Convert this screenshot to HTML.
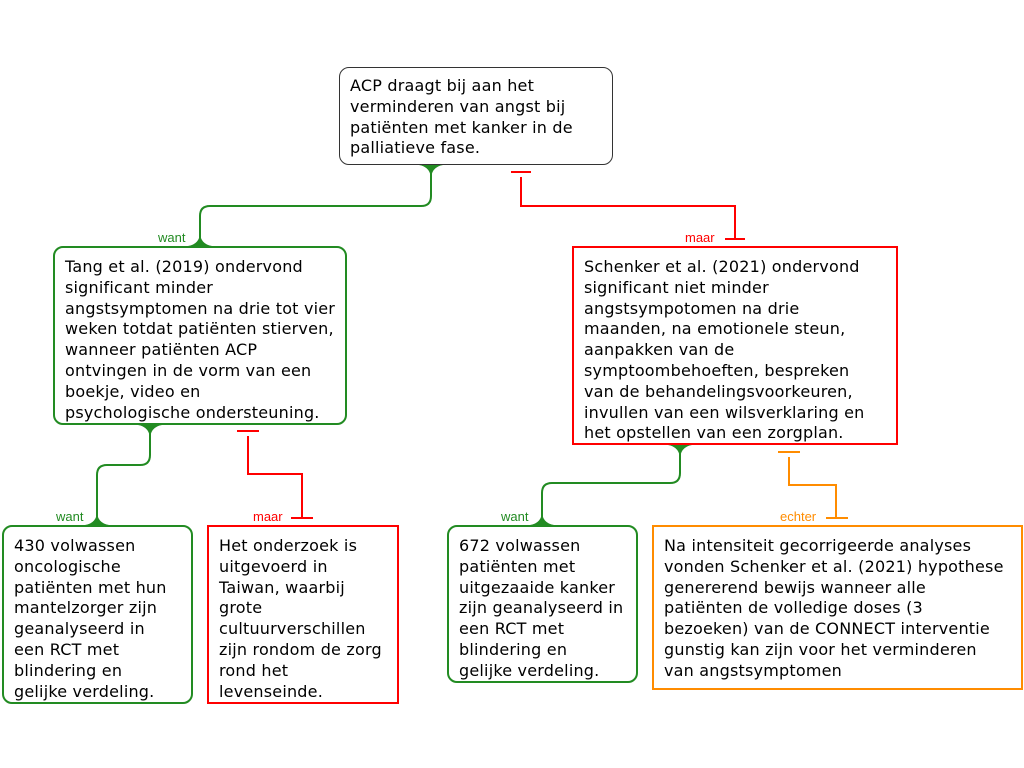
<!DOCTYPE html>
<html><head><meta charset="utf-8"><style>
body{margin:0;width:1024px;height:768px;background:#fff;position:relative;overflow:hidden;font-family:"DejaVu Sans","Liberation Sans",sans-serif;}
.b{position:absolute;box-sizing:border-box;background:#fff;font-size:16px;letter-spacing:0.2px;line-height:20.8px;color:#000;white-space:nowrap;padding:9px 0 0 10px;}
.l{position:absolute;font-size:13px;font-family:"Liberation Sans",sans-serif;}
svg{position:absolute;left:0;top:0}
</style></head><body>
<svg width="1024" height="768" fill="none" stroke-width="2">
<g stroke="#228B22">
<path d="M431 164 V196 Q431 206 421 206 H210 Q200 206 200 216 V246"/>
<path d="M150 424 V455 Q150 465 140 465 H107 Q97 465 97 475 V525"/>
<path d="M680 444 V473 Q680 483 670 483 H552 Q542 483 542 493 V525"/>
</g>
<g fill="#228B22">
<path d="M419 165 Q431 167 431 180 Q431 167 443 165Z"/>
<path d="M188 246 Q200 244 200 232 Q200 244 212 246Z"/>
<path d="M138 425 Q150 427 150 440 Q150 427 162 425Z"/>
<path d="M85 525 Q97 523 97 511 Q97 523 109 525Z"/>
<path d="M668 445 Q680 447 680 460 Q680 447 692 445Z"/>
<path d="M530 525 Q542 523 542 511 Q542 523 554 525Z"/>
</g>
<g stroke="#f00">
<path d="M511 172 H531 M521 177 V206 H735 V238 M725 239 H745"/>
<path d="M237 431 H259 M248 436 V474 H302 V517 M291 518 H313"/>
</g>
<g stroke="#ff8c00">
<path d="M778 452 H800 M789 457 V485 H836 V517 M826 518 H848"/>
</g>
</svg>
<div class="l" style="left:158px;top:230px;color:#228B22">want</div>
<div class="l" style="left:685px;top:230px;color:#f00">maar</div>
<div class="l" style="left:56px;top:509px;color:#228B22">want</div>
<div class="l" style="left:253px;top:509px;color:#f00">maar</div>
<div class="l" style="left:501px;top:509px;color:#228B22">want</div>
<div class="l" style="left:780px;top:509px;color:#ff8c00">echter</div>

<div class="b" style="left:339px;top:67px;width:274px;height:98px;border:1px solid #333;border-radius:10px;padding-top:8px">ACP draagt bij aan het<br>verminderen van angst bij<br>patiënten met kanker in de<br>palliatieve fase.</div>
<div class="b" style="left:53px;top:246px;width:294px;height:179px;border:2px solid #228B22;border-radius:10px">Tang et al. (2019) ondervond<br>significant minder<br>angstsymptomen na drie tot vier<br>weken totdat patiënten stierven,<br>wanneer patiënten ACP<br>ontvingen in de vorm van een<br>boekje, video en<br>psychologische ondersteuning.</div>
<div class="b" style="left:572px;top:246px;width:326px;height:199px;border:2px solid #f00">Schenker et al. (2021) ondervond<br>significant niet minder<br>angstsympotomen na drie<br>maanden, na emotionele steun,<br>aanpakken van de<br>symptoombehoeften, bespreken<br>van de behandelingsvoorkeuren,<br>invullen van een wilsverklaring en<br>het opstellen van een zorgplan.</div>
<div class="b" style="left:2px;top:525px;width:191px;height:179px;border:2px solid #228B22;border-radius:10px">430 volwassen<br>oncologische<br>patiënten met hun<br>mantelzorger zijn<br>geanalyseerd in<br>een RCT met<br>blindering en<br>gelijke verdeling.</div>
<div class="b" style="left:207px;top:525px;width:192px;height:179px;border:2px solid #f00">Het onderzoek is<br>uitgevoerd in<br>Taiwan, waarbij<br>grote<br>cultuurverschillen<br>zijn rondom de zorg<br>rond het<br>levenseinde.</div>
<div class="b" style="left:447px;top:525px;width:191px;height:158px;border:2px solid #228B22;border-radius:10px">672 volwassen<br>patiënten met<br>uitgezaaide kanker<br>zijn geanalyseerd in<br>een RCT met<br>blindering en<br>gelijke verdeling.</div>
<div class="b" style="left:652px;top:525px;width:371px;height:165px;border:2px solid #ff8c00">Na intensiteit gecorrigeerde analyses<br>vonden Schenker et al. (2021) hypothese<br>genererend bewijs wanneer alle<br>patiënten de volledige doses (3<br>bezoeken) van de CONNECT interventie<br>gunstig kan zijn voor het verminderen<br>van angstsymptomen</div>
</body></html>
